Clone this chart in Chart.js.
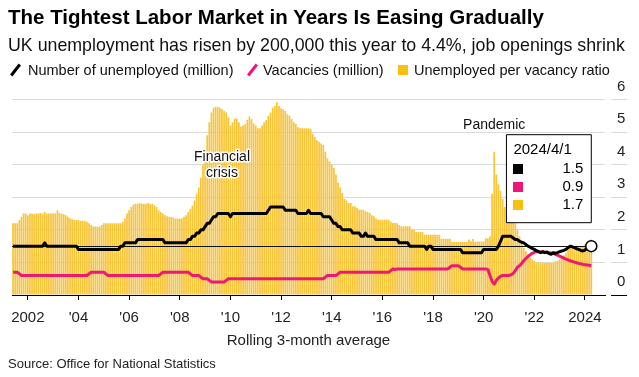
<!DOCTYPE html>
<html>
<head>
<meta charset="utf-8">
<script src="https://cdn.jsdelivr.net/npm/chart.js@4.4.1/dist/chart.umd.min.js"></script>
<style>
  body { margin: 0; width: 639px; height: 377px; overflow: hidden; background: #fff; position: relative;
         font-family: "Liberation Sans", Arial, sans-serif; color: #000; }
  #title { position: absolute; left: 8px; top: 7px; font-size: 20.5px; line-height: 20.5px; font-weight: bold; white-space: nowrap; }
  #subtitle { position: absolute; left: 8px; top: 36px; font-size: 17.8px; line-height: 18px; white-space: nowrap; color: #111; }
  #legend { position: absolute; left: 0; top: 63px; font-size: 14.5px; line-height: 14.5px; white-space: nowrap; color: #111; }
  #legend span { position: absolute; top: 0; }
  .slash { width: 3px; height: 14px; transform: rotate(38deg); }
  .square { width: 10px; height: 10px; margin-top: 2px; }
  #source { position: absolute; left: 8px; top: 357px; font-size: 13px; line-height: 13px; color: #222; white-space: nowrap; }
  #wrap { position: absolute; left: 0; top: 0; width: 639px; height: 377px; }
</style>
</head>
<body>
<div id="wrap"><canvas id="chart"></canvas></div>
<div id="title">The Tightest Labor Market in Years Is Easing Gradually</div>
<div id="subtitle">UK unemployment has risen by 200,000 this year to 4.4%, job openings shrink</div>
<div id="legend"></div>
<div id="source">Source: Office for National Statistics</div>
<script>
// rolling 3-month averages, monthly from 2001-06 to 2024-04
const unemployed = [
  1.5, 1.5, 1.5, 1.5, 1.5, 1.5, 1.5,
  1.5, 1.5, 1.5, 1.5, 1.5, 1.5, 1.5, 1.5, 1.6, 1.5, 1.5, 1.5,
  1.5, 1.5, 1.5, 1.5, 1.5, 1.5, 1.5, 1.5, 1.5, 1.5, 1.5, 1.5,
  1.4, 1.4, 1.4, 1.4, 1.4, 1.4, 1.4, 1.4, 1.4, 1.4, 1.4, 1.4,
  1.4, 1.4, 1.4, 1.4, 1.4, 1.4, 1.4, 1.4, 1.5, 1.5, 1.6, 1.6,
  1.6, 1.6, 1.6, 1.6, 1.7, 1.7, 1.7, 1.7, 1.7, 1.7, 1.7, 1.7,
  1.7, 1.7, 1.7, 1.7, 1.7, 1.6, 1.6, 1.6, 1.6, 1.6, 1.6, 1.6,
  1.6, 1.6, 1.6, 1.6, 1.7, 1.7, 1.8, 1.8, 1.9, 1.9, 2.0, 2.0,
  2.1, 2.2, 2.2, 2.3, 2.4, 2.4, 2.5, 2.5, 2.5, 2.5, 2.5, 2.5,
  2.4, 2.5, 2.5, 2.5, 2.5, 2.5, 2.5, 2.5, 2.5, 2.5, 2.5, 2.5,
  2.5, 2.5, 2.5, 2.5, 2.5, 2.5, 2.6, 2.7, 2.7, 2.7, 2.7, 2.7,
  2.7, 2.7, 2.6, 2.6, 2.6, 2.6, 2.6, 2.6, 2.5, 2.5, 2.5, 2.5,
  2.5, 2.6, 2.5, 2.5, 2.5, 2.5, 2.5, 2.5, 2.4, 2.4, 2.4, 2.4,
  2.3, 2.2, 2.2, 2.1, 2.1, 2.0, 2.0, 2.0, 2.0, 2.0, 1.9, 1.9,
  1.9, 1.9, 1.8, 1.8, 1.9, 1.8, 1.8, 1.8, 1.8, 1.7, 1.7, 1.7,
  1.7, 1.7, 1.7, 1.7, 1.7, 1.7, 1.7, 1.7, 1.6, 1.6, 1.6, 1.6,
  1.6, 1.5, 1.5, 1.5, 1.5, 1.5, 1.5, 1.5, 1.5, 1.4, 1.5, 1.5,
  1.4, 1.4, 1.4, 1.4, 1.4, 1.4, 1.4, 1.4, 1.4, 1.4, 1.4, 1.4,
  1.4, 1.4, 1.3, 1.3, 1.3, 1.3, 1.3, 1.3, 1.3, 1.3, 1.3, 1.3,
  1.4, 1.4, 1.4, 1.4, 1.4, 1.4, 1.4, 1.5, 1.65, 1.8, 1.8, 1.8,
  1.8, 1.8, 1.75, 1.7, 1.7, 1.65, 1.62, 1.6, 1.55, 1.5, 1.47, 1.43,
  1.4, 1.36, 1.33, 1.3, 1.33, 1.3, 1.32, 1.27, 1.25, 1.3, 1.28, 1.3,
  1.33, 1.35, 1.37, 1.4, 1.45, 1.5, 1.48, 1.45, 1.42, 1.4, 1.37, 1.35,
  1.38, 1.43, 1.45, 1.5
];

const vacancies = [
  0.7, 0.7, 0.7, 0.65, 0.6, 0.6, 0.6,
  0.6, 0.6, 0.6, 0.6, 0.6, 0.6, 0.6, 0.6, 0.6, 0.6, 0.6, 0.6,
  0.6, 0.6, 0.6, 0.6, 0.6, 0.6, 0.6, 0.6, 0.6, 0.6, 0.6, 0.6,
  0.6, 0.6, 0.6, 0.6, 0.6, 0.65, 0.7, 0.7, 0.7, 0.7, 0.7, 0.7,
  0.7, 0.65, 0.6, 0.6, 0.6, 0.6, 0.6, 0.6, 0.6, 0.6, 0.6, 0.6,
  0.6, 0.6, 0.6, 0.6, 0.6, 0.6, 0.6, 0.6, 0.6, 0.6, 0.6, 0.6,
  0.6, 0.6, 0.6, 0.65, 0.7, 0.7, 0.7, 0.7, 0.7, 0.7, 0.7, 0.7,
  0.7, 0.7, 0.7, 0.7, 0.7, 0.65, 0.6, 0.6, 0.6, 0.6, 0.55, 0.5,
  0.5, 0.5, 0.45, 0.4, 0.4, 0.4, 0.4, 0.4, 0.4, 0.4, 0.45, 0.5,
  0.5, 0.5, 0.5, 0.5, 0.5, 0.5, 0.5, 0.5, 0.5, 0.5, 0.5, 0.5,
  0.5, 0.5, 0.5, 0.5, 0.5, 0.5, 0.5, 0.5, 0.5, 0.5, 0.5, 0.5,
  0.5, 0.5, 0.5, 0.5, 0.5, 0.5, 0.5, 0.5, 0.5, 0.5, 0.5, 0.5,
  0.5, 0.5, 0.5, 0.5, 0.5, 0.5, 0.5, 0.5, 0.5, 0.55, 0.6, 0.6,
  0.6, 0.6, 0.6, 0.65, 0.7, 0.7, 0.7, 0.7, 0.7, 0.7, 0.7, 0.7,
  0.7, 0.7, 0.7, 0.7, 0.7, 0.7, 0.7, 0.7, 0.7, 0.7, 0.7, 0.7,
  0.7, 0.7, 0.7, 0.7, 0.75, 0.8, 0.78, 0.8, 0.8, 0.8, 0.8, 0.8,
  0.8, 0.8, 0.8, 0.8, 0.8, 0.8, 0.8, 0.8, 0.8, 0.8, 0.8, 0.8,
  0.8, 0.8, 0.8, 0.8, 0.8, 0.8, 0.8, 0.8, 0.85, 0.9, 0.9, 0.9,
  0.9, 0.85, 0.8, 0.8, 0.8, 0.8, 0.8, 0.8, 0.8, 0.8, 0.8, 0.8,
  0.8, 0.8, 0.78, 0.6, 0.42, 0.33, 0.45, 0.52, 0.57, 0.6, 0.6, 0.6,
  0.6, 0.62, 0.66, 0.75, 0.85, 0.9, 0.97, 1.05, 1.12, 1.18, 1.23, 1.28,
  1.31, 1.33, 1.33, 1.32, 1.32, 1.31, 1.3, 1.3, 1.29, 1.28, 1.25, 1.22,
  1.19, 1.16, 1.13, 1.1, 1.08, 1.05, 1.03, 1.01, 0.99, 0.97, 0.96, 0.94,
  0.93, 0.92, 0.91, 0.9
];

const ratio = [
  2.2, 2.2, 2.2, 2.3, 2.4, 2.5, 2.5,
  2.45, 2.5, 2.5, 2.48, 2.5, 2.5, 2.52, 2.5, 2.55, 2.5, 2.5, 2.5,
  2.5, 2.5, 2.6, 2.52, 2.5, 2.48, 2.45, 2.4, 2.35, 2.33, 2.3, 2.3,
  2.3, 2.28, 2.28, 2.28, 2.25, 2.2, 2.15, 2.1, 2.1, 2.1, 2.1, 2.15,
  2.2, 2.2, 2.2, 2.2, 2.2, 2.2, 2.2, 2.2, 2.2, 2.25, 2.35, 2.5,
  2.6, 2.7, 2.78, 2.8, 2.8, 2.82, 2.8, 2.8, 2.8, 2.82, 2.8, 2.8,
  2.75, 2.7, 2.6, 2.55, 2.5, 2.45, 2.42, 2.4, 2.4, 2.38, 2.35, 2.35,
  2.35, 2.35, 2.4, 2.45, 2.55, 2.65, 2.75, 2.9, 3.1, 3.3, 3.6, 4.0,
  4.4, 4.9, 5.3, 5.6, 5.75, 5.78, 5.78, 5.75, 5.7, 5.65, 5.6, 5.45,
  5.2, 5.3, 5.42, 5.42, 5.3, 5.17, 5.2, 5.25, 5.37, 5.48, 5.4, 5.27,
  5.2, 5.12, 5.12, 5.2, 5.3, 5.37, 5.5, 5.6, 5.75, 5.8, 5.92, 5.8,
  5.72, 5.7, 5.65, 5.55, 5.5, 5.4, 5.3, 5.25, 5.15, 5.12, 5.12, 5.12,
  5.12, 5.12, 5.1, 4.95, 4.85, 4.75, 4.7, 4.65, 4.6, 4.4, 4.2, 4.1,
  4.0, 3.9, 3.7, 3.45, 3.3, 3.13, 2.95, 2.9, 2.82, 2.82, 2.72, 2.72,
  2.68, 2.62, 2.62, 2.62, 2.57, 2.55, 2.52, 2.45, 2.42, 2.35, 2.31, 2.31,
  2.31, 2.31, 2.31, 2.31, 2.25, 2.21, 2.21, 2.2, 2.15, 2.11, 2.11, 2.11,
  2.11, 2.11, 2.0, 2.0, 1.93, 1.93, 1.93, 1.93, 1.85, 1.85, 1.85, 1.85,
  1.85, 1.85, 1.85, 1.85, 1.73, 1.73, 1.73, 1.73, 1.73, 1.63, 1.63, 1.63,
  1.63, 1.63, 1.63, 1.63, 1.63, 1.7, 1.65, 1.72, 1.63, 1.64, 1.64, 1.64,
  1.64, 1.74, 1.74, 1.8, 3.1, 4.4, 3.7, 3.4, 3.2, 2.95, 2.7, 2.5,
  2.35, 2.3, 2.25, 2.2, 2.0, 1.8, 1.6, 1.45, 1.35, 1.25, 1.15, 1.1,
  1.05, 1.0, 0.99, 0.98, 0.99, 0.98, 0.99, 0.98, 0.99, 1.0, 1.03, 1.06,
  1.1, 1.15, 1.22, 1.3, 1.38, 1.45, 1.5, 1.5, 1.52, 1.5, 1.48, 1.5,
  1.55, 1.6, 1.65, 1.7
];

const firstYear = 2001;
const firstMonth = 6;
const axisMonths = 281; // axis runs a few months past the last bar
const tickMonths = ['2002-01', '2004-01', '2006-01', '2008-01', '2010-01', '2012-01',
                    '2014-01', '2016-01', '2018-01', '2020-01', '2022-01', '2024-01'];
const tickText = ['2002', "'04", "'06", "'08", "'10", "'12", "'14", "'16", "'18", "'20", "'22", '2024'];
const seriesNames = ['Number of unemployed (million)', 'Vacancies (million)', 'Unemployed per vacancy ratio'];
const colors = ['#000000', '#ee1a72', '#f8c43a'];
const boxColors = ['#000000', '#f0157a', '#fbbf13'];

const FONT = '"Liberation Sans", Arial, sans-serif';

const months = [];
for (let k = 0; k < axisMonths; k++) {
  const n = firstMonth - 1 + k;
  const y = firstYear + Math.floor(n / 12);
  months.push(y + '-' + String((n % 12) + 1).padStart(2, '0'));
}

// solid squares for the tooltip keys
const keySquares = boxColors.map((c) => {
  const cv = document.createElement('canvas');
  cv.width = 10;
  cv.height = 10;
  const g = cv.getContext('2d');
  g.fillStyle = c;
  g.fillRect(0, 0, 10, 10);
  return cv;
});

function buildLegend() {
  const legend = document.getElementById('legend');
  const spots = [
    { mark: 10, text: 28, cls: 'slash' },
    { mark: 247, text: 263, cls: 'slash' },
    { mark: 398, text: 414, cls: 'square' },
  ];
  legend.innerHTML = spots.map((s, i) => `
    <span class="${s.cls}" style="left:${s.mark + (s.cls === 'slash' ? 4 : 0)}px;background:${boxColors[i]}"></span>
    <span style="left:${s.text}px">${seriesNames[i]}</span>
  `).join('');
}

Chart.Tooltip.positioners.latest = function (items) {
  if (!items.length) return false;
  const y = this.chart.scales.y;
  return { x: items[0].element.x, y: y.getPixelForValue(4.92), xAlign: 'right', yAlign: 'top' };
};

const notes = {
  id: 'notes',
  afterDatasetDraw(chart, args) {
    if (args.index !== 2) return;
    // reference line at the latest unemployed value
    const point = chart.getDatasetMeta(0).data[unemployed.length - 1];
    const { ctx, chartArea } = chart;
    const py = Math.round(point.y) + 0.5;
    ctx.save();
    ctx.strokeStyle = '#111';
    ctx.lineWidth = 1;
    ctx.beginPath();
    ctx.moveTo(chartArea.left, py);
    ctx.lineTo(point.x, py);
    ctx.stroke();
    ctx.restore();
  },
  afterDatasetsDraw(chart) {
    const { ctx, scales } = chart;
    const labels = [
      { month: '2009-09', value: 4.0, lines: ['Financial', 'crisis'] },
      { month: '2020-06', value: 5.2, lines: ['Pandemic'] },
    ];
    ctx.save();
    ctx.font = '14px ' + FONT;
    ctx.textAlign = 'center';
    ctx.textBaseline = 'middle';
    ctx.lineJoin = 'round';
    labels.forEach((l) => {
      const x = scales.x.getPixelForValue(months.indexOf(l.month));
      const y0 = scales.y.getPixelForValue(l.value) - (l.lines.length - 1) * 7.5;
      l.lines.forEach((t, i) => {
        ctx.strokeStyle = '#fff';
        ctx.lineWidth = 3;
        ctx.strokeText(t, x, y0 + i * 15.5);
        ctx.fillStyle = '#111';
        ctx.fillText(t, x, y0 + i * 15.5);
      });
    });
    ctx.restore();
  },
};

let chart;

document.addEventListener('DOMContentLoaded', () => {
  buildLegend();
  setupChart();
  showLatest();
});

function setupChart() {
  const ctx = document.getElementById('chart');
  chart = new Chart(ctx, {
    data: {
      labels: months,
      datasets: [
        {
          type: 'line', label: seriesNames[0], data: unemployed,
          borderColor: colors[0], borderWidth: 3, pointRadius: 0,
          pointHoverRadius: 5.5, pointHoverBackgroundColor: '#fff',
          pointHoverBorderColor: '#000', pointHoverBorderWidth: 1.5,
          borderJoinStyle: 'round', tension: 0,
        },
        {
          type: 'line', label: seriesNames[1], data: vacancies,
          borderColor: colors[1], borderWidth: 3, pointRadius: 0, pointHoverRadius: 0,
          borderJoinStyle: 'round', tension: 0,
        },
        {
          type: 'bar', label: seriesNames[2], data: ratio,
          backgroundColor: colors[2], hoverBackgroundColor: colors[2],
          barPercentage: 0.82, categoryPercentage: 1,
        },
      ],
    },
    options: {
      responsive: true,
      maintainAspectRatio: false,
      animation: false,
      events: [],
      layout: { padding: { left: 12, right: 0, top: 99.5, bottom: 27 } },
      plugins: {
        legend: { display: false },
        tooltip: {
          position: 'latest',
          backgroundColor: '#fff', borderColor: '#000', borderWidth: 1, cornerRadius: 0,
          caretSize: 0, caretPadding: 0,
          titleColor: '#000', bodyColor: '#000',
          titleFont: { family: FONT, size: 15, weight: 'normal' },
          bodyFont: { family: FONT, size: 15 },
          padding: { top: 6, bottom: 9, left: 7, right: 8 },
          titleMarginBottom: 1, bodySpacing: 0, bodyAlign: 'right',
          displayColors: true, usePointStyle: true,
          boxWidth: 10, boxHeight: 10, boxPadding: 37,
          callbacks: {
            title: (items) => {
              const [y, m] = items[0].label.split('-');
              return y + '/' + Number(m) + '/1';
            },
            label: (item) => item.parsed.y.toFixed(1),
            labelColor: (item) => ({
              borderColor: boxColors[item.datasetIndex],
              backgroundColor: boxColors[item.datasetIndex],
            }),
            labelPointStyle: (item) => ({ pointStyle: keySquares[item.datasetIndex], rotation: 0 }),
          },
        },
      },
      scales: {
        x: {
          type: 'category', offset: true,
          grid: {
            drawOnChartArea: false, drawTicks: true, tickLength: 5, offset: false,
            color: (c) => (tickMonths.includes(months[c.index]) ? '#000' : 'rgba(0,0,0,0)'),
          },
          border: { display: true, color: '#000', width: 1 },
          ticks: {
            autoSkip: false, maxRotation: 0, minRotation: 0, padding: 9,
            color: '#222', font: { family: FONT, size: 15 },
            callback: (v, i) => {
              const k = tickMonths.indexOf(months[i]);
              return k >= 0 ? tickText[k] : '';
            },
          },
          title: {
            display: true, text: 'Rolling 3-month average', color: '#222',
            font: { family: FONT, size: 15 }, padding: { top: 0, bottom: 0 },
          },
          afterFit: (s) => { s.height = 55; },
        },
        y: {
          position: 'right', min: 0, max: 6,
          border: { display: false },
          grid: {
            color: (c) => (c.tick.value === 0 ? '#000' : '#dadada'),
            tickLength: 22, tickBorderDash: [0, 6, 16, 0],
          },
          ticks: {
            stepSize: 1, padding: -10, labelOffset: -13,
            color: '#222', font: { family: FONT, size: 15 },
          },
          afterFit: (s) => { s.width = 34; },
        },
      },
    },
    plugins: [notes],
  });
}

function showLatest() {
  const last = unemployed.length - 1;
  chart.setActiveElements([{ datasetIndex: 0, index: last }]);
  chart.tooltip.setActiveElements(
    [0, 1, 2].map((d) => ({ datasetIndex: d, index: last })),
    { x: 0, y: 0 }
  );
  chart.render();
}
</script>
</body>
</html>
